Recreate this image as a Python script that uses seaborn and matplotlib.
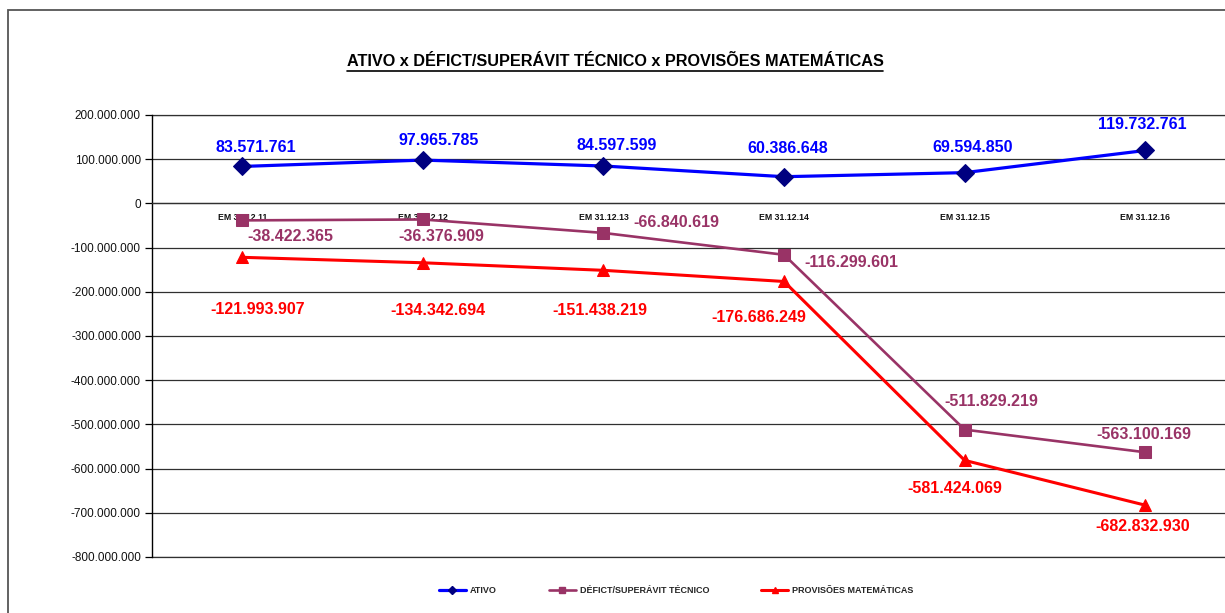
import numpy as np
import pandas as pd
import matplotlib.pyplot as plt
import matplotlib.ticker as mticker
from matplotlib.patches import Rectangle
from matplotlib.lines import Line2D
import seaborn as sns

sns.set_theme(style="white")
plt.rcParams['font.family'] = ['Liberation Sans', 'DejaVu Sans']

categorias = ['EM 31.12.11', 'EM 31.12.12', 'EM 31.12.13', 'EM 31.12.14', 'EM 31.12.15', 'EM 31.12.16']
ativo = [83571761, 97965785, 84597599, 60386648, 69594850, 119732761]
deficit = [-38422365, -36376909, -66840619, -116299601, -511829219, -563100169]
provisoes = [-121993907, -134342694, -151438219, -176686249, -581424069, -682832930]

# label offsets (pixels) relative to each point
off_ativo = [(13, 19), (16, 20), (13, 21), (4, 28), (8, 25), (-3, 26)]
off_deficit = [(48, -16), (18, -17), (73, 10), (67, -8), (27, 28), (-1, 18)]
off_prov = [(15, -52), (15, -48), (-4, -40), (-25, -36), (-10, -28), (-3, -21)]


def fmt(v, pos=None):
    return f"{int(v):,}".replace(",", ".")


fig = plt.figure(figsize=(12.25, 6.13), dpi=100)
ax = fig.add_axes([0.1241, 0.0914, 0.8845, 0.7210])

series = [
    ('ATIVO', ativo, off_ativo, '#0000FF', 'D', '#000080', 9.5, 2.3),
    ('DÉFICT/SUPERÁVIT TÉCNICO', deficit, off_deficit, '#993366', 's', '#993366', 9, 1.9),
    ('PROVISÕES MATEMÁTICAS', provisoes, off_prov, '#FF0000', '^', '#FF0000', 8, 2.2),
]

x = np.arange(len(categorias))
for nome, vals, offs, cor, mk, mkcor, ms, lw in series:
    sns.lineplot(x=x, y=vals, ax=ax, color=cor, linewidth=lw, marker=mk,
                 markersize=ms, markerfacecolor=mkcor, markeredgecolor=mkcor,
                 label=nome, sort=False, legend=False, zorder=3)
    for xi, v, (dx, dy) in zip(x, vals, offs):
        ax.annotate(fmt(v), (xi, v), xytext=(dx, dy), textcoords='offset pixels',
                    ha='center', va='center', color=cor, fontsize=11.5,
                    fontweight='bold', zorder=4)

for s in ['top', 'right']:
    ax.spines[s].set_visible(False)
ax.spines['bottom'].set_position(('data', 0))
ax.spines['bottom'].set_color('#303030')
ax.spines['bottom'].set_linewidth(0.9)
ax.spines['left'].set_color('black')
ax.spines['left'].set_linewidth(1.0)

ax.set_xlim(-0.5, len(categorias) - 0.5)
ax.set_ylim(-800_000_000, 200_000_000)
ax.yaxis.set_major_locator(mticker.MultipleLocator(100_000_000))
ax.yaxis.set_major_formatter(mticker.FuncFormatter(fmt))
ax.grid(axis='y', color='#303030', linewidth=0.9)
ax.axhline(-800_000_000, color='#303030', linewidth=0.9, clip_on=False, zorder=1)
ax.axhline(200_000_000, color='#303030', linewidth=0.9, clip_on=False, zorder=1)
ax.set_axisbelow(True)

ax.set_xticks(x)
ax.set_xticklabels(categorias, fontsize=6.3, fontweight='bold', color='#111111')
ax.set_xticks(np.arange(-0.5, len(categorias)), minor=True)
ax.tick_params(axis='x', which='major', length=0, pad=7)
ax.tick_params(axis='x', which='minor', length=4, width=0.9, direction='out', color='black')
ax.tick_params(axis='y', length=5, width=0.9, direction='out', color='black',
               labelsize=8.5, pad=3, left=True, labelcolor='#111111')
ax.set_xlabel('')
ax.set_ylabel('')

# legend
handles = []
for nome, vals, offs, cor, mk, mkcor, ms, lw in series:
    handles.append(Line2D([], [], color=cor, linewidth=lw, marker=mk, markersize=4,
                          markerfacecolor=mkcor, markeredgecolor=mkcor, label=nome))
fig.legend(handles=handles, loc='center', bbox_to_anchor=(0.552, 0.036), ncol=3,
           frameon=False, handlelength=3.0, handletextpad=0.4, columnspacing=5.8,
           prop={'weight': 'bold', 'size': 6.5})

# title with underline
title = fig.text(0.502, 0.899, 'ATIVO x DÉFICT/SUPERÁVIT TÉCNICO x PROVISÕES MATEMÁTICAS',
                 ha='center', va='center', fontsize=11.7, fontweight='bold', color='black')
fig.canvas.draw()
bb = title.get_window_extent().transformed(fig.transFigure.inverted())
fig.add_artist(Line2D([bb.x0, bb.x1], [bb.y0 - 0.002, bb.y0 - 0.002], color='black',
                      linewidth=1.2, transform=fig.transFigure))

# chart area border
fig.add_artist(Rectangle((8 / 1225, -0.05), 1.1, 0.05 + (613 - 10) / 613, transform=fig.transFigure,
                         fill=False, edgecolor='#555555', linewidth=1.3))

fig.savefig('out.png', dpi=100)
